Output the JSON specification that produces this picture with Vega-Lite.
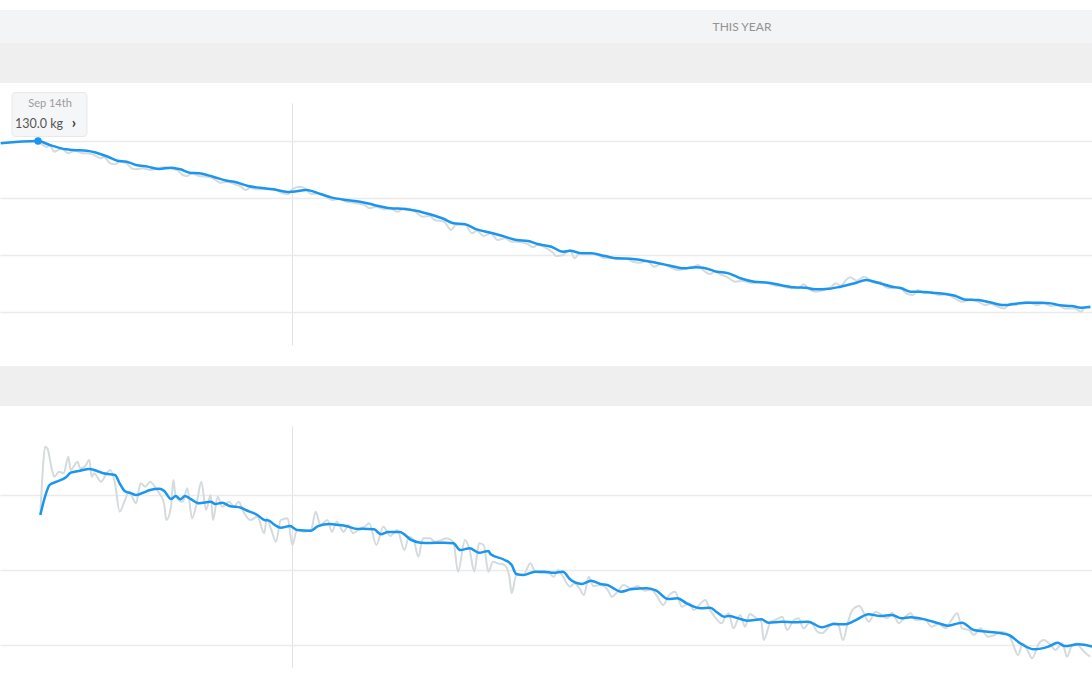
{
  "$schema": "https://vega.github.io/schema/vega-lite/v6.json",
  "padding": {"top": 10, "left": -5, "right": 0, "bottom": 0},
  "background": "white",
  "spacing": 0,
  "bounds": "flush",
  "config": {"view": {"stroke": null}, "axis": {"minExtent": 0, "maxExtent": 0, "offset": 0, "labelPadding": 0, "tickSize": 0, "titlePadding": 0}},
  "datasets": {
    "marker": [{"day": 0, "kg": 130.0, "date": "Sep 14th", "label": "130.0 kg"}],
    "blank": [{"tab": ""}],
    "weight_trend": [
      {"day":-16,"kg":129.8},{"day":0,"kg":130.0},{"day":5,"kg":129.65},{"day":12,"kg":129.27},{"day":15,"kg":129.21},{"day":21,"kg":129.15},{"day":25,"kg":128.97},{"day":30,"kg":128.62},{"day":34,"kg":128.27},{"day":38,"kg":128.18},{"day":42,"kg":127.89},{"day":47,"kg":127.75},{"day":52,"kg":127.54},{"day":57,"kg":127.66},{"day":61,"kg":127.52},{"day":65,"kg":127.22},{"day":69,"kg":127.17},{"day":75,"kg":126.87},{"day":81,"kg":126.52},{"day":84,"kg":126.43},{"day":90,"kg":126.05},{"day":95,"kg":125.9},{"day":101,"kg":125.76},{"day":107,"kg":125.53},{"day":109,"kg":125.55},{"day":115,"kg":125.7},{"day":121,"kg":125.35},{"day":126,"kg":125.03},{"day":132,"kg":124.82},{"day":138,"kg":124.68},{"day":144,"kg":124.39},{"day":151,"kg":124.1},{"day":157,"kg":124.04},{"day":162,"kg":123.89},{"day":168,"kg":123.57},{"day":174,"kg":123.16},{"day":178,"kg":122.78},{"day":183,"kg":122.69},{"day":188,"kg":122.25},{"day":194,"kg":121.96},{"day":200,"kg":121.61},{"day":205,"kg":121.32},{"day":210,"kg":121.23},{"day":214,"kg":120.96},{"day":220,"kg":120.73},{"day":225,"kg":120.29},{"day":228,"kg":120.38},{"day":233,"kg":120.15},{"day":237,"kg":120.15},{"day":243,"kg":119.91},{"day":248,"kg":119.71},{"day":254,"kg":119.68},{"day":260,"kg":119.5},{"day":265,"kg":119.32},{"day":271,"kg":119.06},{"day":277,"kg":118.83},{"day":282,"kg":118.92},{"day":285,"kg":118.89},{"day":291,"kg":118.54},{"day":296,"kg":118.39},{"day":301,"kg":117.96},{"day":307,"kg":117.66},{"day":313,"kg":117.57},{"day":318,"kg":117.37},{"day":324,"kg":117.17},{"day":329,"kg":117.13},{"day":333,"kg":116.99},{"day":339,"kg":117.04},{"day":344,"kg":117.22},{"day":350,"kg":117.52},{"day":355,"kg":117.81},{"day":360,"kg":117.57},{"day":366,"kg":117.22},{"day":370,"kg":117.08},{"day":374,"kg":116.78},{"day":378,"kg":116.78},{"day":383,"kg":116.69},{"day":389,"kg":116.58},{"day":393,"kg":116.43},{"day":397,"kg":116.11},{"day":403,"kg":116.05},{"day":408,"kg":115.85},{"day":414,"kg":115.61},{"day":420,"kg":115.76},{"day":424,"kg":115.82},{"day":430,"kg":115.82},{"day":434,"kg":115.76},{"day":438,"kg":115.59},{"day":443,"kg":115.53},{"day":447,"kg":115.38},{"day":451,"kg":115.46}
    ],
    "weight_raw": [
      {"day":0,"kg":129.96},{"day":2,"kg":129.65},{"day":4,"kg":129.47},{"day":5,"kg":129.65},{"day":7,"kg":129.06},{"day":10,"kg":129.34},{"day":13,"kg":128.92},{"day":16,"kg":129.15},{"day":19,"kg":128.92},{"day":21,"kg":128.92},{"day":24,"kg":128.77},{"day":27,"kg":128.48},{"day":28,"kg":128.62},{"day":31,"kg":128.04},{"day":33,"kg":127.96},{"day":35,"kg":128.18},{"day":38,"kg":128.04},{"day":40,"kg":127.61},{"day":42,"kg":127.52},{"day":45,"kg":127.61},{"day":48,"kg":127.46},{"day":51,"kg":127.61},{"day":54,"kg":127.69},{"day":57,"kg":127.61},{"day":60,"kg":127.39},{"day":62,"kg":127.02},{"day":64,"kg":126.93},{"day":66,"kg":127.17},{"day":69,"kg":126.93},{"day":72,"kg":126.87},{"day":75,"kg":126.73},{"day":78,"kg":126.34},{"day":81,"kg":126.43},{"day":84,"kg":126.23},{"day":87,"kg":125.99},{"day":89,"kg":125.7},{"day":91,"kg":125.9},{"day":94,"kg":125.76},{"day":98,"kg":125.76},{"day":102,"kg":125.7},{"day":105,"kg":125.41},{"day":107,"kg":125.32},{"day":109,"kg":125.76},{"day":112,"kg":125.99},{"day":115,"kg":125.76},{"day":117,"kg":125.35},{"day":120,"kg":125.41},{"day":123,"kg":125.18},{"day":126,"kg":124.82},{"day":129,"kg":124.97},{"day":132,"kg":124.68},{"day":135,"kg":124.59},{"day":138,"kg":124.47},{"day":140,"kg":124.39},{"day":142,"kg":124.1},{"day":145,"kg":124.24},{"day":148,"kg":124.01},{"day":151,"kg":124.1},{"day":154,"kg":123.8},{"day":157,"kg":124.1},{"day":161,"kg":123.89},{"day":165,"kg":123.36},{"day":168,"kg":123.42},{"day":170,"kg":123.07},{"day":174,"kg":122.92},{"day":177,"kg":122.19},{"day":179,"kg":122.63},{"day":183,"kg":122.69},{"day":186,"kg":121.9},{"day":188,"kg":122.13},{"day":191,"kg":121.67},{"day":194,"kg":121.9},{"day":197,"kg":121.32},{"day":200,"kg":121.46},{"day":203,"kg":121.17},{"day":205,"kg":121.17},{"day":210,"kg":120.96},{"day":212,"kg":120.68},{"day":214,"kg":120.88},{"day":218,"kg":120.59},{"day":221,"kg":120.15},{"day":222,"kg":119.91},{"day":225,"kg":120.0},{"day":228,"kg":120.44},{"day":230,"kg":119.71},{"day":232,"kg":120.15},{"day":237,"kg":120.15},{"day":240,"kg":120.0},{"day":243,"kg":119.71},{"day":246,"kg":119.8},{"day":248,"kg":119.62},{"day":252,"kg":119.68},{"day":255,"kg":119.41},{"day":258,"kg":119.32},{"day":261,"kg":119.5},{"day":264,"kg":118.97},{"day":267,"kg":119.21},{"day":271,"kg":118.92},{"day":274,"kg":118.68},{"day":277,"kg":118.8},{"day":281,"kg":118.97},{"day":283,"kg":119.12},{"day":285,"kg":118.68},{"day":288,"kg":118.33},{"day":290,"kg":118.53},{"day":293,"kg":118.25},{"day":295,"kg":118.1},{"day":299,"kg":117.66},{"day":302,"kg":117.72},{"day":306,"kg":117.52},{"day":309,"kg":117.61},{"day":313,"kg":117.52},{"day":316,"kg":117.31},{"day":318,"kg":117.28},{"day":323,"kg":117.08},{"day":326,"kg":117.08},{"day":328,"kg":117.43},{"day":331,"kg":116.93},{"day":333,"kg":116.78},{"day":337,"kg":116.93},{"day":340,"kg":117.22},{"day":342,"kg":117.52},{"day":344,"kg":117.28},{"day":346,"kg":117.75},{"day":348,"kg":118.04},{"day":351,"kg":117.75},{"day":354,"kg":118.1},{"day":356,"kg":117.89},{"day":358,"kg":117.57},{"day":361,"kg":117.66},{"day":363,"kg":117.22},{"day":366,"kg":117.08},{"day":369,"kg":117.22},{"day":372,"kg":116.64},{"day":375,"kg":116.49},{"day":377,"kg":116.93},{"day":380,"kg":116.64},{"day":383,"kg":116.78},{"day":386,"kg":116.49},{"day":389,"kg":116.55},{"day":393,"kg":116.2},{"day":396,"kg":115.9},{"day":400,"kg":116.11},{"day":403,"kg":115.9},{"day":406,"kg":115.61},{"day":408,"kg":115.7},{"day":414,"kg":115.32},{"day":417,"kg":115.76},{"day":419,"kg":115.61},{"day":421,"kg":115.76},{"day":424,"kg":115.9},{"day":428,"kg":115.61},{"day":431,"kg":115.76},{"day":434,"kg":115.53},{"day":437,"kg":115.61},{"day":440,"kg":115.32},{"day":444,"kg":115.32},{"day":447,"kg":115.03},{"day":449,"kg":115.47},{"day":451,"kg":115.32}
    ],
    "fat_trend": [
      {"day":1,"pct":43.67},{"day":3,"pct":44.89},{"day":5,"pct":45.67},{"day":8,"pct":45.89},{"day":12,"pct":46.18},{"day":14,"pct":46.49},{"day":18,"pct":46.62},{"day":22,"pct":46.73},{"day":25,"pct":46.62},{"day":28,"pct":46.45},{"day":31,"pct":46.38},{"day":33,"pct":46.33},{"day":35,"pct":45.78},{"day":37,"pct":45.29},{"day":40,"pct":45.11},{"day":42,"pct":45.0},{"day":45,"pct":45.15},{"day":48,"pct":45.33},{"day":52,"pct":45.42},{"day":54,"pct":45.29},{"day":57,"pct":44.73},{"day":59,"pct":44.93},{"day":61,"pct":44.71},{"day":63,"pct":44.93},{"day":65,"pct":44.78},{"day":69,"pct":44.45},{"day":74,"pct":44.55},{"day":76,"pct":44.4},{"day":79,"pct":44.49},{"day":82,"pct":44.27},{"day":87,"pct":44.15},{"day":89,"pct":44.0},{"day":94,"pct":43.67},{"day":97,"pct":43.33},{"day":99,"pct":43.29},{"day":101,"pct":43.05},{"day":104,"pct":42.82},{"day":108,"pct":42.93},{"day":111,"pct":42.67},{"day":117,"pct":42.62},{"day":120,"pct":42.93},{"day":125,"pct":43.07},{"day":129,"pct":43.0},{"day":132,"pct":42.93},{"day":137,"pct":42.73},{"day":139,"pct":42.75},{"day":144,"pct":42.71},{"day":147,"pct":42.38},{"day":150,"pct":42.53},{"day":155,"pct":42.53},{"day":160,"pct":42.0},{"day":164,"pct":41.82},{"day":168,"pct":41.8},{"day":174,"pct":41.82},{"day":178,"pct":41.78},{"day":181,"pct":41.33},{"day":185,"pct":41.45},{"day":189,"pct":41.15},{"day":193,"pct":41.27},{"day":194,"pct":41.05},{"day":200,"pct":40.67},{"day":203,"pct":40.33},{"day":205,"pct":39.73},{"day":208,"pct":39.67},{"day":213,"pct":39.89},{"day":217,"pct":39.89},{"day":221,"pct":39.82},{"day":225,"pct":39.89},{"day":228,"pct":39.38},{"day":233,"pct":39.07},{"day":237,"pct":39.29},{"day":241,"pct":39.07},{"day":244,"pct":39.0},{"day":250,"pct":38.55},{"day":254,"pct":38.71},{"day":261,"pct":38.78},{"day":265,"pct":38.62},{"day":270,"pct":38.07},{"day":274,"pct":38.11},{"day":278,"pct":37.78},{"day":284,"pct":37.45},{"day":288,"pct":37.49},{"day":291,"pct":37.18},{"day":294,"pct":36.89},{"day":296,"pct":36.93},{"day":300,"pct":36.78},{"day":304,"pct":36.62},{"day":310,"pct":36.71},{"day":313,"pct":36.49},{"day":319,"pct":36.55},{"day":324,"pct":36.51},{"day":330,"pct":36.55},{"day":336,"pct":36.18},{"day":341,"pct":36.4},{"day":346,"pct":36.38},{"day":350,"pct":36.62},{"day":356,"pct":37.05},{"day":361,"pct":36.93},{"day":366,"pct":37.0},{"day":370,"pct":36.78},{"day":374,"pct":36.85},{"day":380,"pct":36.71},{"day":386,"pct":36.45},{"day":390,"pct":36.29},{"day":396,"pct":36.49},{"day":401,"pct":36.0},{"day":407,"pct":35.89},{"day":416,"pct":35.67},{"day":421,"pct":35.11},{"day":427,"pct":34.71},{"day":433,"pct":34.89},{"day":437,"pct":35.15},{"day":440,"pct":34.93},{"day":446,"pct":35.05},{"day":452,"pct":34.89}
    ],
    "fat_raw": [
      {"day":1,"pct":43.67},{"day":2,"pct":46.55},{"day":3,"pct":48.22},{"day":4,"pct":48.11},{"day":6,"pct":46.67},{"day":7,"pct":46.22},{"day":9,"pct":46.55},{"day":11,"pct":46.45},{"day":13,"pct":47.55},{"day":14,"pct":46.67},{"day":17,"pct":47.22},{"day":18,"pct":46.78},{"day":20,"pct":46.89},{"day":22,"pct":47.33},{"day":23,"pct":46.22},{"day":24,"pct":46.45},{"day":27,"pct":45.89},{"day":29,"pct":46.33},{"day":31,"pct":46.67},{"day":33,"pct":45.78},{"day":35,"pct":43.89},{"day":37,"pct":44.55},{"day":39,"pct":45.22},{"day":42,"pct":44.45},{"day":44,"pct":45.78},{"day":46,"pct":45.55},{"day":48,"pct":45.89},{"day":51,"pct":45.33},{"day":54,"pct":44.45},{"day":55,"pct":43.33},{"day":57,"pct":44.22},{"day":58,"pct":46.0},{"day":59,"pct":44.89},{"day":62,"pct":44.55},{"day":64,"pct":45.45},{"day":66,"pct":43.45},{"day":68,"pct":44.45},{"day":70,"pct":45.89},{"day":72,"pct":44.0},{"day":74,"pct":45.0},{"day":75,"pct":43.33},{"day":77,"pct":44.89},{"day":79,"pct":44.22},{"day":82,"pct":44.55},{"day":84,"pct":44.22},{"day":86,"pct":44.55},{"day":88,"pct":43.89},{"day":91,"pct":43.33},{"day":94,"pct":43.55},{"day":97,"pct":42.45},{"day":98,"pct":43.45},{"day":100,"pct":42.67},{"day":102,"pct":41.89},{"day":104,"pct":43.33},{"day":107,"pct":43.45},{"day":109,"pct":41.67},{"day":111,"pct":42.67},{"day":114,"pct":42.55},{"day":117,"pct":42.67},{"day":119,"pct":43.89},{"day":121,"pct":43.0},{"day":124,"pct":43.33},{"day":126,"pct":42.55},{"day":128,"pct":43.22},{"day":131,"pct":42.55},{"day":133,"pct":43.0},{"day":135,"pct":42.45},{"day":138,"pct":42.78},{"day":140,"pct":42.89},{"day":142,"pct":43.11},{"day":145,"pct":41.67},{"day":148,"pct":42.89},{"day":151,"pct":42.27},{"day":154,"pct":42.67},{"day":157,"pct":41.33},{"day":159,"pct":42.22},{"day":161,"pct":42.0},{"day":163,"pct":40.89},{"day":165,"pct":42.11},{"day":168,"pct":42.11},{"day":170,"pct":41.89},{"day":173,"pct":42.0},{"day":175,"pct":42.11},{"day":178,"pct":41.89},{"day":180,"pct":39.89},{"day":183,"pct":42.0},{"day":185,"pct":41.33},{"day":187,"pct":39.89},{"day":189,"pct":41.78},{"day":191,"pct":41.67},{"day":193,"pct":39.89},{"day":195,"pct":40.55},{"day":197,"pct":40.45},{"day":200,"pct":40.33},{"day":202,"pct":39.55},{"day":203,"pct":38.45},{"day":205,"pct":39.67},{"day":208,"pct":39.67},{"day":211,"pct":40.45},{"day":213,"pct":39.89},{"day":216,"pct":39.78},{"day":219,"pct":39.78},{"day":221,"pct":39.55},{"day":223,"pct":40.0},{"day":225,"pct":39.55},{"day":228,"pct":38.89},{"day":230,"pct":39.11},{"day":232,"pct":38.78},{"day":234,"pct":38.33},{"day":236,"pct":39.55},{"day":238,"pct":38.93},{"day":241,"pct":39.0},{"day":244,"pct":38.71},{"day":246,"pct":38.22},{"day":248,"pct":38.49},{"day":251,"pct":39.0},{"day":254,"pct":38.78},{"day":257,"pct":38.93},{"day":260,"pct":38.62},{"day":263,"pct":38.67},{"day":265,"pct":38.33},{"day":268,"pct":37.67},{"day":270,"pct":38.22},{"day":273,"pct":38.55},{"day":276,"pct":37.55},{"day":279,"pct":37.78},{"day":281,"pct":37.33},{"day":284,"pct":37.78},{"day":286,"pct":38.0},{"day":288,"pct":37.33},{"day":290,"pct":36.89},{"day":293,"pct":36.45},{"day":295,"pct":37.0},{"day":296,"pct":37.11},{"day":298,"pct":36.11},{"day":301,"pct":37.0},{"day":303,"pct":36.22},{"day":305,"pct":37.07},{"day":308,"pct":36.78},{"day":310,"pct":36.55},{"day":311,"pct":35.33},{"day":314,"pct":36.55},{"day":316,"pct":36.67},{"day":319,"pct":36.89},{"day":321,"pct":36.0},{"day":324,"pct":36.67},{"day":326,"pct":36.78},{"day":328,"pct":36.11},{"day":331,"pct":36.55},{"day":334,"pct":35.89},{"day":336,"pct":35.78},{"day":339,"pct":36.22},{"day":341,"pct":36.49},{"day":343,"pct":36.33},{"day":345,"pct":35.33},{"day":347,"pct":36.45},{"day":349,"pct":37.33},{"day":352,"pct":37.6},{"day":354,"pct":37.11},{"day":356,"pct":36.55},{"day":359,"pct":37.22},{"day":361,"pct":37.07},{"day":364,"pct":36.78},{"day":366,"pct":37.15},{"day":369,"pct":36.45},{"day":371,"pct":36.78},{"day":374,"pct":37.11},{"day":376,"pct":36.67},{"day":380,"pct":36.71},{"day":383,"pct":36.22},{"day":386,"pct":36.4},{"day":389,"pct":36.11},{"day":391,"pct":36.55},{"day":394,"pct":37.11},{"day":396,"pct":36.11},{"day":399,"pct":36.0},{"day":401,"pct":35.67},{"day":404,"pct":36.11},{"day":407,"pct":35.55},{"day":410,"pct":35.67},{"day":413,"pct":35.89},{"day":416,"pct":35.67},{"day":418,"pct":35.0},{"day":420,"pct":34.33},{"day":422,"pct":35.11},{"day":424,"pct":34.67},{"day":426,"pct":34.11},{"day":429,"pct":35.11},{"day":431,"pct":35.33},{"day":434,"pct":35.0},{"day":436,"pct":34.67},{"day":439,"pct":35.11},{"day":441,"pct":34.22},{"day":443,"pct":34.93},{"day":445,"pct":35.11},{"day":447,"pct":34.78},{"day":449,"pct":34.45},{"day":451,"pct":34.22}
    ]
  },
  "vconcat": [
    {
      "width": 1092,
      "height": 33,
      "data": {"values": [{"tab": "THIS YEAR"}]},
      "view": {"fill": "#f3f4f5", "stroke": null},
      "mark": {"type": "text", "font": "Lato", "fontSize": 12, "color": "#939393", "align": "center", "baseline": "middle"},
      "encoding": {
        "text": {"field": "tab", "type": "nominal"},
        "x": {"datum": 0.6795, "type": "quantitative", "scale": {"domain": [0, 1], "nice": false, "zero": false}, "axis": null}
      }
    },
    {
      "width": 1092,
      "height": 40,
      "data": {"name": "blank"},
      "view": {"fill": "#efefef", "stroke": null},
      "mark": {"type": "text", "text": ""},
      "encoding": {}
    },
    {
      "width": 1092,
      "height": 20,
      "data": {"name": "blank"},
      "mark": {"type": "text", "text": ""},
      "encoding": {}
    },
    {
      "width": 1092,
      "height": 242,
      "layer": [
        {
          "data": {"name": "weight_raw"},
          "mark": {"type": "line", "color": "#d5dadc", "strokeWidth": 2, "interpolate": "monotone"},
          "encoding": {
            "x": {"field": "day", "type": "quantitative", "scale": {"domain": [-16.29, 451.71], "nice": false, "zero": false},
                  "axis": {"values": [109], "grid": true, "gridColor": "#e2e2e2", "gridWidth": 1, "labels": false, "ticks": false, "domain": false, "title": null}},
            "y": {"field": "kg", "type": "quantitative", "scale": {"domain": [112.11, 133.33], "nice": false, "zero": false},
                  "axis": {"values": [115, 120, 125, 130], "grid": true, "gridColor": "#ebebeb", "gridWidth": 1.5, "labels": false, "ticks": false, "domain": false, "title": null}}
          }
        },
        {
          "data": {"name": "weight_trend"},
          "mark": {"type": "line", "color": "#1b96ee", "strokeWidth": 2.5, "interpolate": "monotone"},
          "encoding": {
            "x": {"field": "day", "type": "quantitative"},
            "y": {"field": "kg", "type": "quantitative"}
          }
        },
        {
          "data": {"name": "marker"},
          "mark": {"type": "point", "shape": "M-0.893,-0.587 L0.893,-0.587 Q1,-0.587 1,-0.48 L1,0.48 Q1,0.587 0.893,0.587 L-0.893,0.587 Q-1,0.587 -1,0.48 L-1,-0.48 Q-1,-0.587 -0.893,-0.587 Z", "filled": true, "fill": "#f5f6f7", "fillOpacity": 1, "opacity": 1, "stroke": "#e9e9e9", "strokeWidth": 1, "size": 5625, "xOffset": 11.5, "yOffset": -26.5},
          "encoding": {
            "x": {"field": "day", "type": "quantitative"},
            "y": {"field": "kg", "type": "quantitative"}
          }
        },
        {
          "data": {"name": "marker"},
          "mark": {"type": "point", "filled": true, "color": "#1b96ee", "opacity": 1, "size": 55},
          "encoding": {
            "x": {"field": "day", "type": "quantitative"},
            "y": {"field": "kg", "type": "quantitative"}
          }
        },
        {
          "data": {"name": "marker"},
          "mark": {"type": "text", "font": "Lato", "fontSize": 11, "color": "#9c9c9c", "align": "center", "baseline": "middle", "dx": 12, "dy": -37},
          "encoding": {
            "x": {"field": "day", "type": "quantitative"},
            "y": {"field": "kg", "type": "quantitative"},
            "text": {"field": "date", "type": "nominal"}
          }
        },
        {
          "data": {"name": "marker"},
          "mark": {"type": "text", "font": "Lato", "fontSize": 12.5, "color": "#555555", "align": "left", "baseline": "middle", "dx": -23, "dy": -16.5},
          "encoding": {
            "x": {"field": "day", "type": "quantitative"},
            "y": {"field": "kg", "type": "quantitative"},
            "text": {"field": "label", "type": "nominal"}
          }
        },
        {
          "data": {"name": "marker"},
          "mark": {"type": "text", "text": "›", "font": "Lato", "fontSize": 15, "fontWeight": "bold", "color": "#333333", "align": "center", "baseline": "middle", "dx": 36, "dy": -17.5},
          "encoding": {
            "x": {"field": "day", "type": "quantitative"},
            "y": {"field": "kg", "type": "quantitative"}
          }
        }
      ]
    },
    {
      "width": 1092,
      "height": 21,
      "data": {"name": "blank"},
      "mark": {"type": "text", "text": ""},
      "encoding": {}
    },
    {
      "width": 1092,
      "height": 40,
      "data": {"name": "blank"},
      "view": {"fill": "#efefef", "stroke": null},
      "mark": {"type": "text", "text": ""},
      "encoding": {}
    },
    {
      "width": 1092,
      "height": 20,
      "data": {"name": "blank"},
      "mark": {"type": "text", "text": ""},
      "encoding": {}
    },
    {
      "width": 1092,
      "height": 242,
      "layer": [
        {
          "data": {"name": "fat_raw"},
          "mark": {"type": "line", "color": "#d5dadc", "strokeWidth": 2, "interpolate": "monotone"},
          "encoding": {
            "x": {"field": "day", "type": "quantitative", "scale": {"domain": [-16.29, 451.71], "nice": false, "zero": false},
                  "axis": {"values": [109], "grid": true, "gridColor": "#e2e2e2", "gridWidth": 1, "labels": false, "ticks": false, "domain": false, "title": null}},
            "y": {"field": "pct", "type": "quantitative", "scale": {"domain": [33.467, 49.6], "nice": false, "zero": false},
                  "axis": {"values": [35, 40, 45], "grid": true, "gridColor": "#ebebeb", "gridWidth": 1.5, "labels": false, "ticks": false, "domain": false, "title": null}}
          }
        },
        {
          "data": {"name": "fat_trend"},
          "mark": {"type": "line", "color": "#1b96ee", "strokeWidth": 2.5, "interpolate": "monotone"},
          "encoding": {
            "x": {"field": "day", "type": "quantitative"},
            "y": {"field": "pct", "type": "quantitative"}
          }
        }
      ]
    }
  ]
}
